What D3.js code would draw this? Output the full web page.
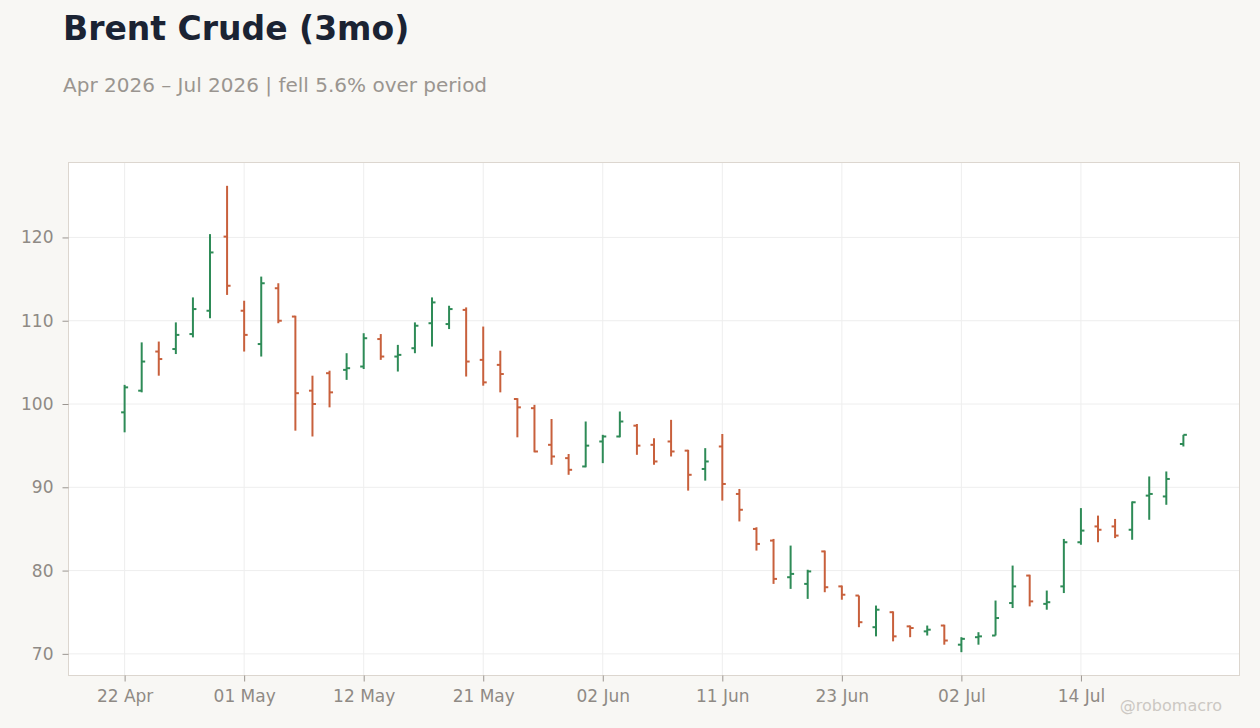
<!DOCTYPE html>
<html>
<head>
<meta charset="utf-8">
<script src="https://cdn.jsdelivr.net/npm/d3@7"></script>
<style>
  body { margin: 0; background: #f8f7f4; }
  svg { display: block; font-family: "DejaVu Sans", sans-serif; }
</style>
</head>
<body>
<div id="chart"></div>
<script>
// trading days (US holidays skipped)
const dates = [
  "2026-04-22","2026-04-23","2026-04-24","2026-04-27","2026-04-28","2026-04-29","2026-04-30",
  "2026-05-01","2026-05-04","2026-05-05","2026-05-06","2026-05-07","2026-05-08","2026-05-11",
  "2026-05-12","2026-05-13","2026-05-14","2026-05-15","2026-05-18","2026-05-19","2026-05-20",
  "2026-05-21","2026-05-22","2026-05-26","2026-05-27","2026-05-28","2026-05-29","2026-06-01",
  "2026-06-02","2026-06-03","2026-06-04","2026-06-05","2026-06-08","2026-06-09","2026-06-10",
  "2026-06-11","2026-06-12","2026-06-15","2026-06-16","2026-06-17","2026-06-18","2026-06-22",
  "2026-06-23","2026-06-24","2026-06-25","2026-06-26","2026-06-29","2026-06-30","2026-07-01",
  "2026-07-02","2026-07-06","2026-07-07","2026-07-08","2026-07-09","2026-07-10","2026-07-13",
  "2026-07-14","2026-07-15","2026-07-16","2026-07-17","2026-07-20","2026-07-21","2026-07-22"
];

const open = [
  99.0,101.6,106.3,106.6,108.4,111.2,120.1,111.2,107.2,113.9,
  110.5,101.6,103.7,104.1,104.5,107.8,105.7,106.7,109.7,109.6,
  111.3,105.3,104.7,100.6,99.5,95.1,93.5,92.5,95.5,96.1,
  97.4,95.1,95.5,94.4,92.2,94.9,89.2,85.0,83.6,79.2,
  78.4,82.3,78.1,77.0,73.2,75.0,73.3,72.7,73.4,71.1,
  72.0,72.2,76.1,79.4,76.0,78.1,83.4,85.3,85.3,84.9,
  89.0,88.9,95.2
];
const high = [
  102.3,107.4,107.5,109.8,112.8,120.4,126.2,112.4,115.3,114.5,
  110.6,103.4,104.0,106.1,108.5,108.4,107.1,109.8,112.8,111.8,
  111.6,109.3,106.4,100.7,99.9,98.2,94.0,97.9,96.3,99.1,
  97.6,95.9,98.1,94.5,94.7,96.4,89.8,85.2,83.8,83.0,
  80.1,82.4,78.2,77.0,75.8,75.1,73.4,73.4,73.5,72.0,
  72.6,76.4,80.6,79.5,77.6,83.8,87.5,86.6,86.2,88.3,
  91.3,91.9,96.3
];
const low = [
  96.6,101.4,103.4,106.0,108.0,110.3,113.1,106.3,105.7,109.7,
  96.8,96.1,99.6,102.9,104.2,105.3,103.9,106.1,106.9,109.0,
  103.3,102.2,101.4,96.0,94.2,92.7,91.5,92.4,92.9,96.0,
  93.9,92.7,93.7,89.6,90.8,88.4,85.9,82.4,78.4,77.8,
  76.6,77.4,76.5,73.2,72.1,71.5,72.0,72.2,71.1,70.2,
  71.1,72.2,75.5,75.7,75.3,77.3,83.1,83.4,83.9,83.7,
  86.1,87.9,94.9
];
const close = [
  102.0,105.1,105.4,108.3,111.4,118.2,114.2,108.3,114.5,110.0,
  101.3,100.0,101.4,104.3,107.9,105.7,105.9,109.4,112.2,111.4,
  105.1,102.6,103.6,99.6,94.3,93.7,92.1,95.0,96.1,97.9,
  95.0,93.1,94.3,91.5,93.1,90.4,87.3,83.2,79.0,79.6,
  79.9,78.0,77.1,73.8,75.3,72.1,73.1,72.9,71.6,71.8,
  72.1,74.3,78.1,76.3,76.2,83.4,84.8,84.9,84.2,88.2,
  89.2,91.0,96.3
];

const yTicks = [70, 80, 90, 100, 110, 120];
const xTickIdx = [0, 7, 14, 21, 28, 35, 42, 49, 56];

const title = "Brent Crude (3mo)";
const subtitle = "Apr 2026 – Jul 2026 | fell 5.6% over period";
const credit = "@robomacro";

const upColor = "#2e8b57";
const downColor = "#c8603c";

const parseDate = d3.timeParse("%Y-%m-%d");
const fmtDate = d3.timeFormat("%d %b");
const bars = dates.map((d, i) => ({
  i: i, date: parseDate(d), o: open[i], h: high[i], l: low[i], c: close[i]
}));

const W = 1260, H = 728;
const margin = {top: 162.5, right: 20.5, bottom: 52.5, left: 68.5};
const w = W - margin.left - margin.right;
const h = H - margin.top - margin.bottom;

const svg = d3.select("#chart").append("svg")
  .attr("width", W)
  .attr("height", H);

svg.append("rect").attr("width", W).attr("height", H).attr("fill", "#f8f7f4");

svg.append("text")
  .attr("x", 63).attr("y", 40)
  .attr("font-size", 33).attr("font-weight", "bold")
  .attr("fill", "#1b2333")
  .text(title);

svg.append("text")
  .attr("x", 63).attr("y", 92)
  .attr("font-size", 20)
  .attr("fill", "#9a9590")
  .text(subtitle);

const g = svg.append("g")
  .attr("transform", `translate(${margin.left},${margin.top})`);

// padded index and value scales
const pad = (bars.length - 1) * 0.053;
const x = d3.scaleLinear()
  .domain([-pad, bars.length - 1 + pad])
  .range([0, w]);

const lo = d3.min(low), hi = d3.max(high);
const yPad = (hi - lo) * 0.05;
const y = d3.scaleLinear()
  .domain([lo - yPad, hi + yPad])
  .range([h, 0]);

g.append("rect")
  .attr("width", w).attr("height", h)
  .attr("fill", "#ffffff");

// grid
g.append("g")
  .selectAll("line")
  .data(yTicks)
  .join("line")
  .attr("x1", 0).attr("x2", w)
  .attr("y1", d => y(d)).attr("y2", d => y(d))
  .attr("stroke", "#eeeeee");

g.append("g")
  .selectAll("line")
  .data(xTickIdx)
  .join("line")
  .attr("y1", 0).attr("y2", h)
  .attr("x1", d => x(d)).attr("x2", d => x(d))
  .attr("stroke", "#eeeeee");

// OHLC bars
const tickW = 3.5;
const bar = g.append("g")
  .selectAll("g")
  .data(bars)
  .join("g")
  .attr("stroke", d => d.c >= d.o ? upColor : downColor)
  .attr("stroke-width", 2);

bar.append("line")
  .attr("x1", d => x(d.i)).attr("x2", d => x(d.i))
  .attr("y1", d => y(d.h)).attr("y2", d => y(d.l));

bar.append("line")
  .attr("x1", d => x(d.i) - tickW).attr("x2", d => x(d.i))
  .attr("y1", d => y(d.o)).attr("y2", d => y(d.o));

bar.append("line")
  .attr("x1", d => x(d.i)).attr("x2", d => x(d.i) + tickW)
  .attr("y1", d => y(d.c)).attr("y2", d => y(d.c));

// frame
g.append("rect")
  .attr("width", w).attr("height", h)
  .attr("fill", "none")
  .attr("stroke", "#dcd6cf");

// axes
const xAxis = g.append("g")
  .attr("transform", `translate(0,${h})`)
  .call(d3.axisBottom(x)
    .tickValues(xTickIdx)
    .tickFormat(i => fmtDate(bars[i].date))
    .tickSize(6)
    .tickPadding(8));

const yAxis = g.append("g")
  .call(d3.axisLeft(y)
    .tickValues(yTicks)
    .tickSize(6)
    .tickPadding(9));

[xAxis, yAxis].forEach(a => {
  a.select(".domain").remove();
  a.selectAll(".tick line").attr("stroke", "#9a9590");
  a.selectAll(".tick text")
    .attr("fill", "#8f8a85")
    .attr("font-size", 17)
    .attr("font-family", "DejaVu Sans, sans-serif");
});

svg.append("text")
  .attr("x", 1222).attr("y", 711)
  .attr("text-anchor", "end")
  .attr("font-size", 16)
  .attr("fill", "#ccc8c3")
  .text(credit);
</script>
</body>
</html>
